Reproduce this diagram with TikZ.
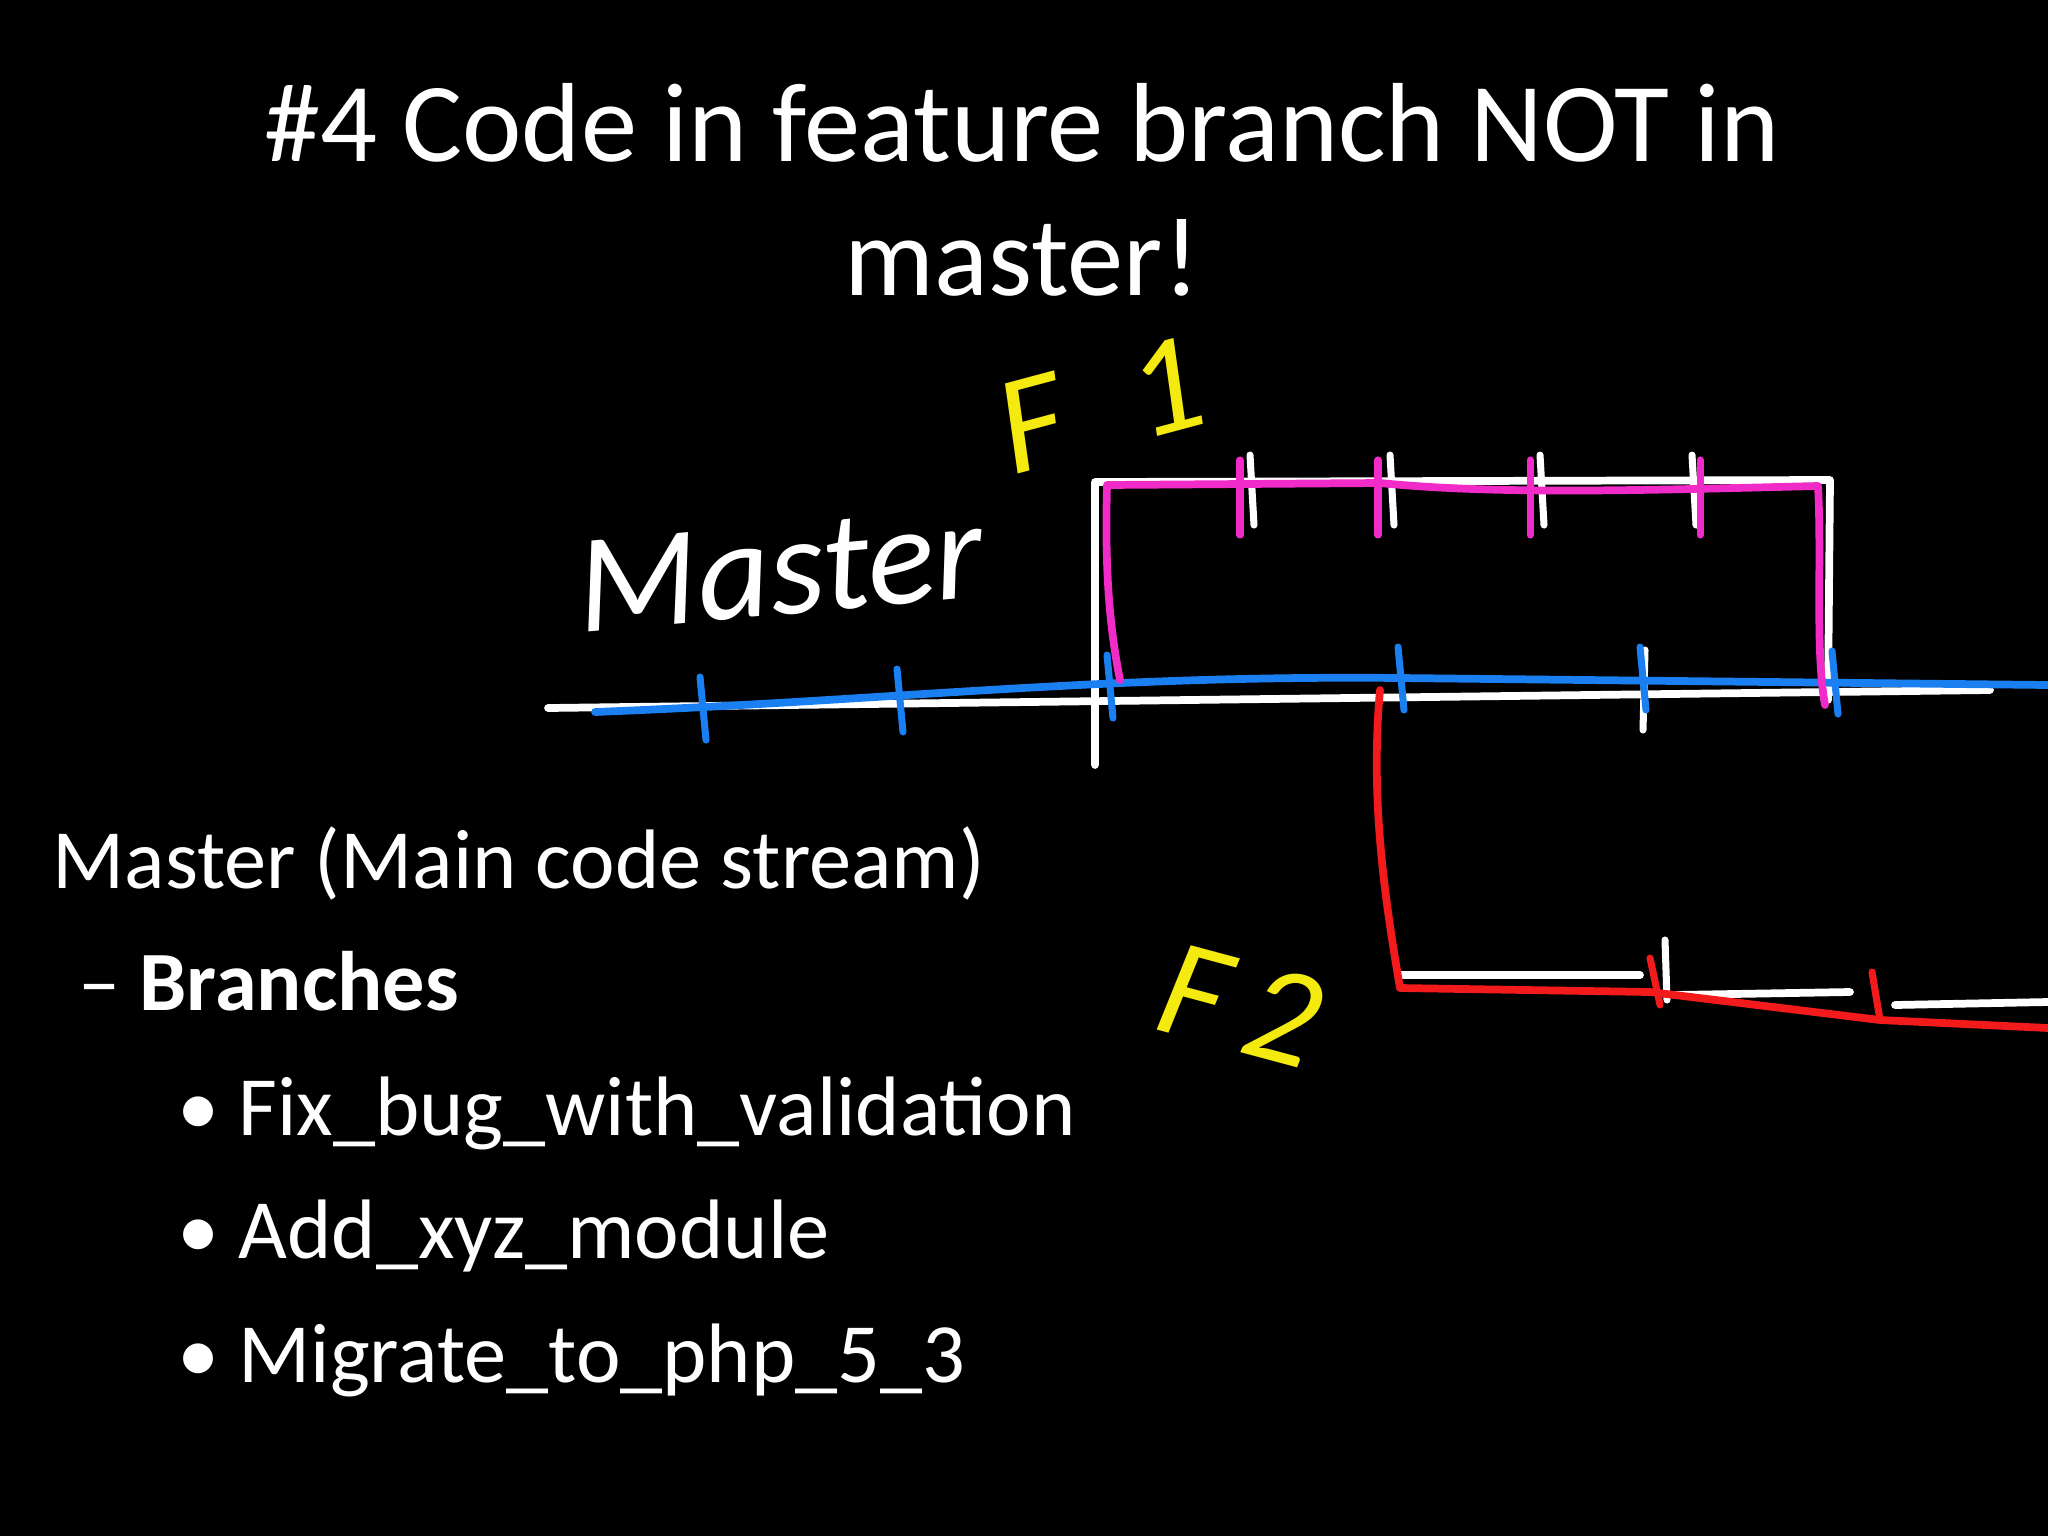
\documentclass[tikz,border=0pt]{standalone}
\usepackage{fontspec}
\setmainfont{Carlito}
\usetikzlibrary{positioning}
\definecolor{inkblue}{HTML}{1A7FF0}
\definecolor{inkpink}{HTML}{F02BC8}
\definecolor{inkred}{HTML}{F21A1A}
\definecolor{inkyellow}{HTML}{F5EA10}

\begin{document}
\begin{tikzpicture}[x=0.01cm,y=-0.01cm]
  % Styles
  \tikzset{
    title/.style={text=white, font=\fontsize{32}{38}\selectfont, align=center},
    body/.style={text=white, font=\fontsize{24}{28}\selectfont, anchor=base west},
    hand/.style={line width=2.2pt, line cap=round, line join=round},
    tick/.style={hand, line width=2pt},
    scrawl/.style={font=\fontsize{40}{44}\selectfont\itshape, inner sep=0pt},
  }
  \fill[black] (0,0) rectangle (2048,1536);
  \useasboundingbox (0,0) rectangle (2048,1536);

  % Title
  \node[title] (head) at (1022,190) {\#4 Code in feature branch NOT in\\master!};

  % Bullet list
  \node[body] (master) at (40,888) {Master (Main code stream)};
  \node[body] (branches) at (66,1010) {\textendash\ \textbf{Branches}};
  \node[body] (fix) at (165,1135) {\textbullet\ Fix\_bug\_with\_validation};
  \node[body] (add) at (165,1258) {\textbullet\ Add\_xyz\_module};
  \node[body] (mig) at (165,1382) {\textbullet\ Migrate\_to\_php\_5\_3};

  % Handwritten labels
  \node[scrawl, text=white, rotate=5] (mlabel) at (780,570) {Master};
  \node[scrawl, text=inkyellow, rotate=15] (fone) at (1100,405) {F\,\,\,1};
  \node[scrawl, text=inkyellow, rotate=-15] (ftwo) at (1240,1005) {F\,2};

  % Coordinates of the drawing
  \coordinate (ms) at (548,708);
  \coordinate (me) at (1990,690);

  % White strokes
  \draw[white, hand] (ms) -- (me);
  \draw[white, hand] (1095,765) -- (1095,482) -- (1830,480) -- (1828,700);
  \draw[white, hand] (1400,975) -- (1640,975);
  \draw[white, hand] (1675,995) -- (1850,992);
  \draw[white, hand] (1895,1005) -- (2048,1002);
  \foreach \x in {1250,1390,1540,1692}
    \draw[white, tick] (\x,455) -- (\x+4,525);
  \draw[white, tick] (1645,650) -- (1643,730);
  \draw[white, tick] (1665,940) -- (1667,1000);

  % Blue master line
  \draw[inkblue, hand] (595,712) .. controls (900,700) and (1100,675) .. (1400,678) -- (2048,685);
  \foreach \x/\y in {700/712,897/704,1107/690,1398/682,1640/682,1832/686}
    \draw[inkblue, tick] (\x,\y-35) -- (\x+6,\y+28);

  % Pink feature branch F1
  \draw[inkpink, hand] (1120,680) .. controls (1108,620) and (1105,560) .. (1107,485)
    -- (1380,483) .. controls (1500,495) and (1650,490) .. (1818,486)
    .. controls (1822,560) and (1815,650) .. (1825,705);
  \foreach \x in {1240,1378,1530,1700}
    \draw[inkpink, tick] (\x,460) -- (\x,535);

  % Red feature branch F2
  \draw[inkred, hand] (1380,690) .. controls (1370,800) and (1385,900) .. (1400,988)
    -- (1650,992) -- (1880,1020) -- (2048,1028);
  \draw[inkred, tick] (1650,958) -- (1660,1005);
  \draw[inkred, tick] (1872,972) -- (1880,1020);
\end{tikzpicture}
\end{document}
